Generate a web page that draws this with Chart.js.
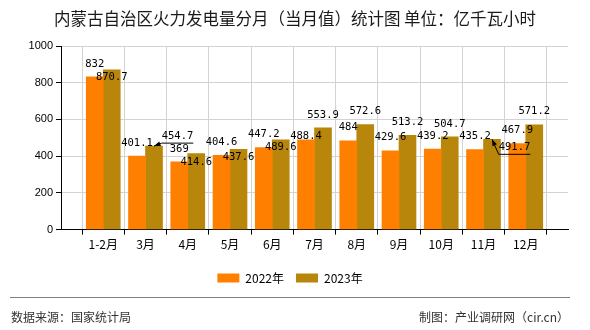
<!DOCTYPE html>
<html>
<head>
<meta charset="utf-8">
<script src="https://cdn.jsdelivr.net/npm/chart.js@4"></script>
<style>
  html, body { margin: 0; padding: 0; background: #fff; }
  #wrap { width: 590px; height: 330px; }
</style>
</head>
<body>
<div id="wrap"><canvas id="myChart"></canvas></div>
<script>
const months = ["1-2月", "3月", "4月", "5月", "6月", "7月", "8月", "9月", "10月", "11月", "12月"];
const values2022 = [832, 401.1, 369, 404.6, 447.2, 488.4, 484, 429.6, 439.2, 435.2, 467.9];
const values2023 = [870.7, 454.7, 414.6, 437.6, 489.6, 553.9, 572.6, 513.2, 504.7, 491.7, 571.2];
const yTicks = [0, 200, 400, 600, 800, 1000];

// label nudges [dx, dy], third item = draw a pointer line
const shift2022 = { 5: [0, 9] };
const shift2023 = { 0: [0, 21], 1: [23.5, 3, true], 2: [0, 22], 3: [0, 21], 4: [0, 21], 9: [22.5, 21, true] };

Chart.defaults.font.family = '"Noto Sans CJK SC", "Liberation Sans", sans-serif';
Chart.defaults.color = "#000";

// one empty slot on each side, like the original axis
const labels = ["", ...months, ""];
const pad = (arr) => [null, ...arr, null];

const valueLabels = {
  id: "valueLabels",
  afterDatasetsDraw(chart) {
    const ctx = chart.ctx;
    ctx.save();
    ctx.font = '10.5px "DejaVu Sans Mono", monospace';
    ctx.fillStyle = "#000";
    ctx.textAlign = "center";
    ctx.textBaseline = "middle";
    chart.data.datasets.forEach((ds, di) => {
      const shifts = di === 0 ? shift2022 : shift2023;
      chart.getDatasetMeta(di).data.forEach((bar, i) => {
        const v = ds.data[i];
        if (v === null) return;
        const s = shifts[i - 1] || [0, 0];
        const x = bar.x + s[0];
        const y = bar.y - 13 + s[1];
        const text = String(v);
        ctx.fillText(text, x, y);
        if (s[2]) {
          const w = ctx.measureText(text).width;
          const by = y + 7;
          ctx.strokeStyle = "#000";
          ctx.lineWidth = 1;
          ctx.beginPath();
          ctx.moveTo(bar.x, bar.y);
          ctx.lineTo(x - w / 2, by);
          ctx.lineTo(x + w / 2, by);
          ctx.stroke();
          // small arrow head at the bar top
          const a = Math.atan2(by - bar.y, x - w / 2 - bar.x);
          ctx.beginPath();
          ctx.moveTo(bar.x, bar.y);
          ctx.lineTo(bar.x + 7 * Math.cos(a - 0.35), bar.y + 7 * Math.sin(a - 0.35));
          ctx.lineTo(bar.x + 7 * Math.cos(a + 0.35), bar.y + 7 * Math.sin(a + 0.35));
          ctx.closePath();
          ctx.fill();
        }
      });
    });
    ctx.restore();
  }
};

// title on top, source line at the bottom
const frame = {
  id: "frame",
  afterDraw(chart) {
    const ctx = chart.ctx;
    ctx.save();
    ctx.font = '16.5px "Noto Sans CJK SC", sans-serif';
    ctx.fillStyle = "#1a1a1a";
    ctx.textAlign = "center";
    ctx.textBaseline = "middle";
    ctx.fillText("内蒙古自治区火力发电量分月（当月值）统计图 单位：亿千瓦小时", 295, 18.5);

    ctx.strokeStyle = "#808080";
    ctx.lineWidth = 1;
    ctx.beginPath();
    ctx.moveTo(10, 297.5);
    ctx.lineTo(570, 297.5);
    ctx.stroke();
    ctx.font = '12px "Noto Sans CJK SC", sans-serif';
    ctx.fillStyle = "#333";
    ctx.textAlign = "left";
    ctx.fillText("数据来源：国家统计局", 11, 317);
    ctx.textAlign = "right";
    ctx.fillText("制图：产业调研网（cir.cn）", 569, 317);
    ctx.restore();
  }
};

const ctx = document.getElementById("myChart");

new Chart(ctx, {
  type: "bar",
  data: {
    labels: labels,
    datasets: [
      {
        label: "2022年",
        data: pad(values2022),
        backgroundColor: "#FF8000",
        barThickness: 17,
      },
      {
        label: "2023年",
        data: pad(values2023),
        backgroundColor: "#B8860B",
        barThickness: 17,
      },
    ],
  },
  options: {
    responsive: true,
    maintainAspectRatio: false,
    animation: false,
    layout: {
      padding: { left: 12, right: 22, top: 46, bottom: 36 },
    },
    scales: {
      x: {
        offset: false,
        border: { color: "#000" },
        grid: { color: "#d3d3d3", tickColor: "#000", tickLength: 5 },
        ticks: { padding: 3, autoSkip: false, maxRotation: 0, font: { size: 12 } },
        afterFit: (s) => { s.height += 5; },
      },
      y: {
        min: 0,
        max: 1000,
        border: { color: "#000" },
        grid: { color: "#d3d3d3", tickColor: "#000", tickLength: 5 },
        ticks: {
          padding: 3,
          font: { family: '"Liberation Sans", sans-serif', size: 11 },
          callback: (v) => String(v),
        },
        afterBuildTicks: (s) => { s.ticks = yTicks.map((v) => ({ value: v })); },
        afterFit: (s) => { s.width = 49; },
      },
    },
    plugins: {
      title: { display: false },
      legend: {
        position: "bottom",
        labels: {
          boxWidth: 22,
          boxHeight: 9,
          padding: 12,
          font: { size: 12 },
          color: "#000",
        },
      },
      tooltip: { enabled: false },
    },
  },
  plugins: [valueLabels, frame],
});
</script>
</body>
</html>
